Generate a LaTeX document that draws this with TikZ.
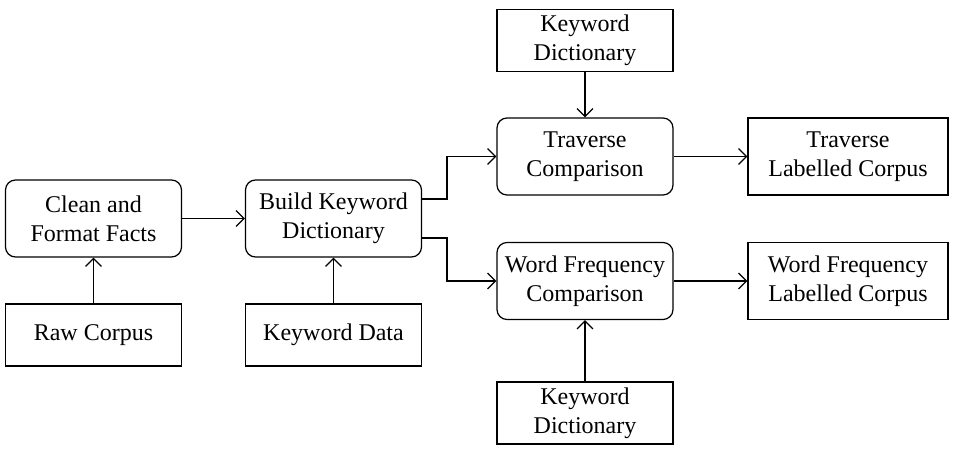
\documentclass[tikz,border=0pt]{standalone}
\usepackage{fontspec}
\setmainfont{Liberation Serif}
\usetikzlibrary{graphs,arrows.meta}
\tikzset{
    stepnode/.style={
        draw,
        rounded corners=7.5pt,
        align=center,
        inner sep=0,
        minimum width=132pt,
        minimum height=57.75pt,
        font=\fontsize{18}{21.5}\selectfont,
    },
    datanode/.style={
        draw,
        align=center,
        inner sep=0,
        minimum width=132pt,
        minimum height=46.5pt,
        font=\fontsize{18}{21.5}\selectfont,
    },
    corpusnode/.style={
        draw,
        align=center,
        inner sep=0,
        minimum width=150pt,
        minimum height=57.75pt,
        font=\fontsize{18}{21.5}\selectfont,
    },
}

\begin{document}
\begin{tikzpicture}[x=0.75pt, y=-0.75pt, line width=0.9pt,
        >={Straight Barb[length=6pt,width=12pt]}]
            \useasboundingbox (0,0) rectangle (957,452);

            \node[stepnode]   at (93.5, 218.5)  (clean)     {Clean and\\Format Facts};
            \node[datanode]   at (93.5, 335)    (raw)       {Raw Corpus};
            \node[stepnode]   at (333.5, 218.5) (build)     {Build Keyword\\Dictionary};
            \node[datanode]   at (333.5, 335)   (kwdata)    {Keyword Data};

            \node[datanode]   at (585, 40.5)    (dicttop)   {Keyword\\Dictionary};
            \node[stepnode]   at (585, 156.5)   (traverse)  {Traverse\\Comparison};
            \node[corpusnode] at (848, 156.5)   (travlab)   {Traverse\\Labelled Corpus};

            \node[stepnode]   at (585, 281)     (wordfreq)  {Word Frequency\\Comparison};
            \node[corpusnode] at (848, 281)     (wflab)     {Word Frequency\\Labelled Corpus};
            \node[datanode]   at (585, 413)     (dictbot)   {Keyword\\Dictionary};

            \graph[use existing nodes]{
                raw -> clean -> build ;
                kwdata -> build ;
                dicttop -> traverse -> travlab ;
                dictbot -> wordfreq -> wflab ;
            } ;

            \draw[->] ([yshift=14.6pt]build.east) -| (447, 156.5) -- (traverse.west);
            \draw[->] ([yshift=-14.6pt]build.east) -| (447, 281) -- (wordfreq.west);
        \end{tikzpicture}
\end{document}
